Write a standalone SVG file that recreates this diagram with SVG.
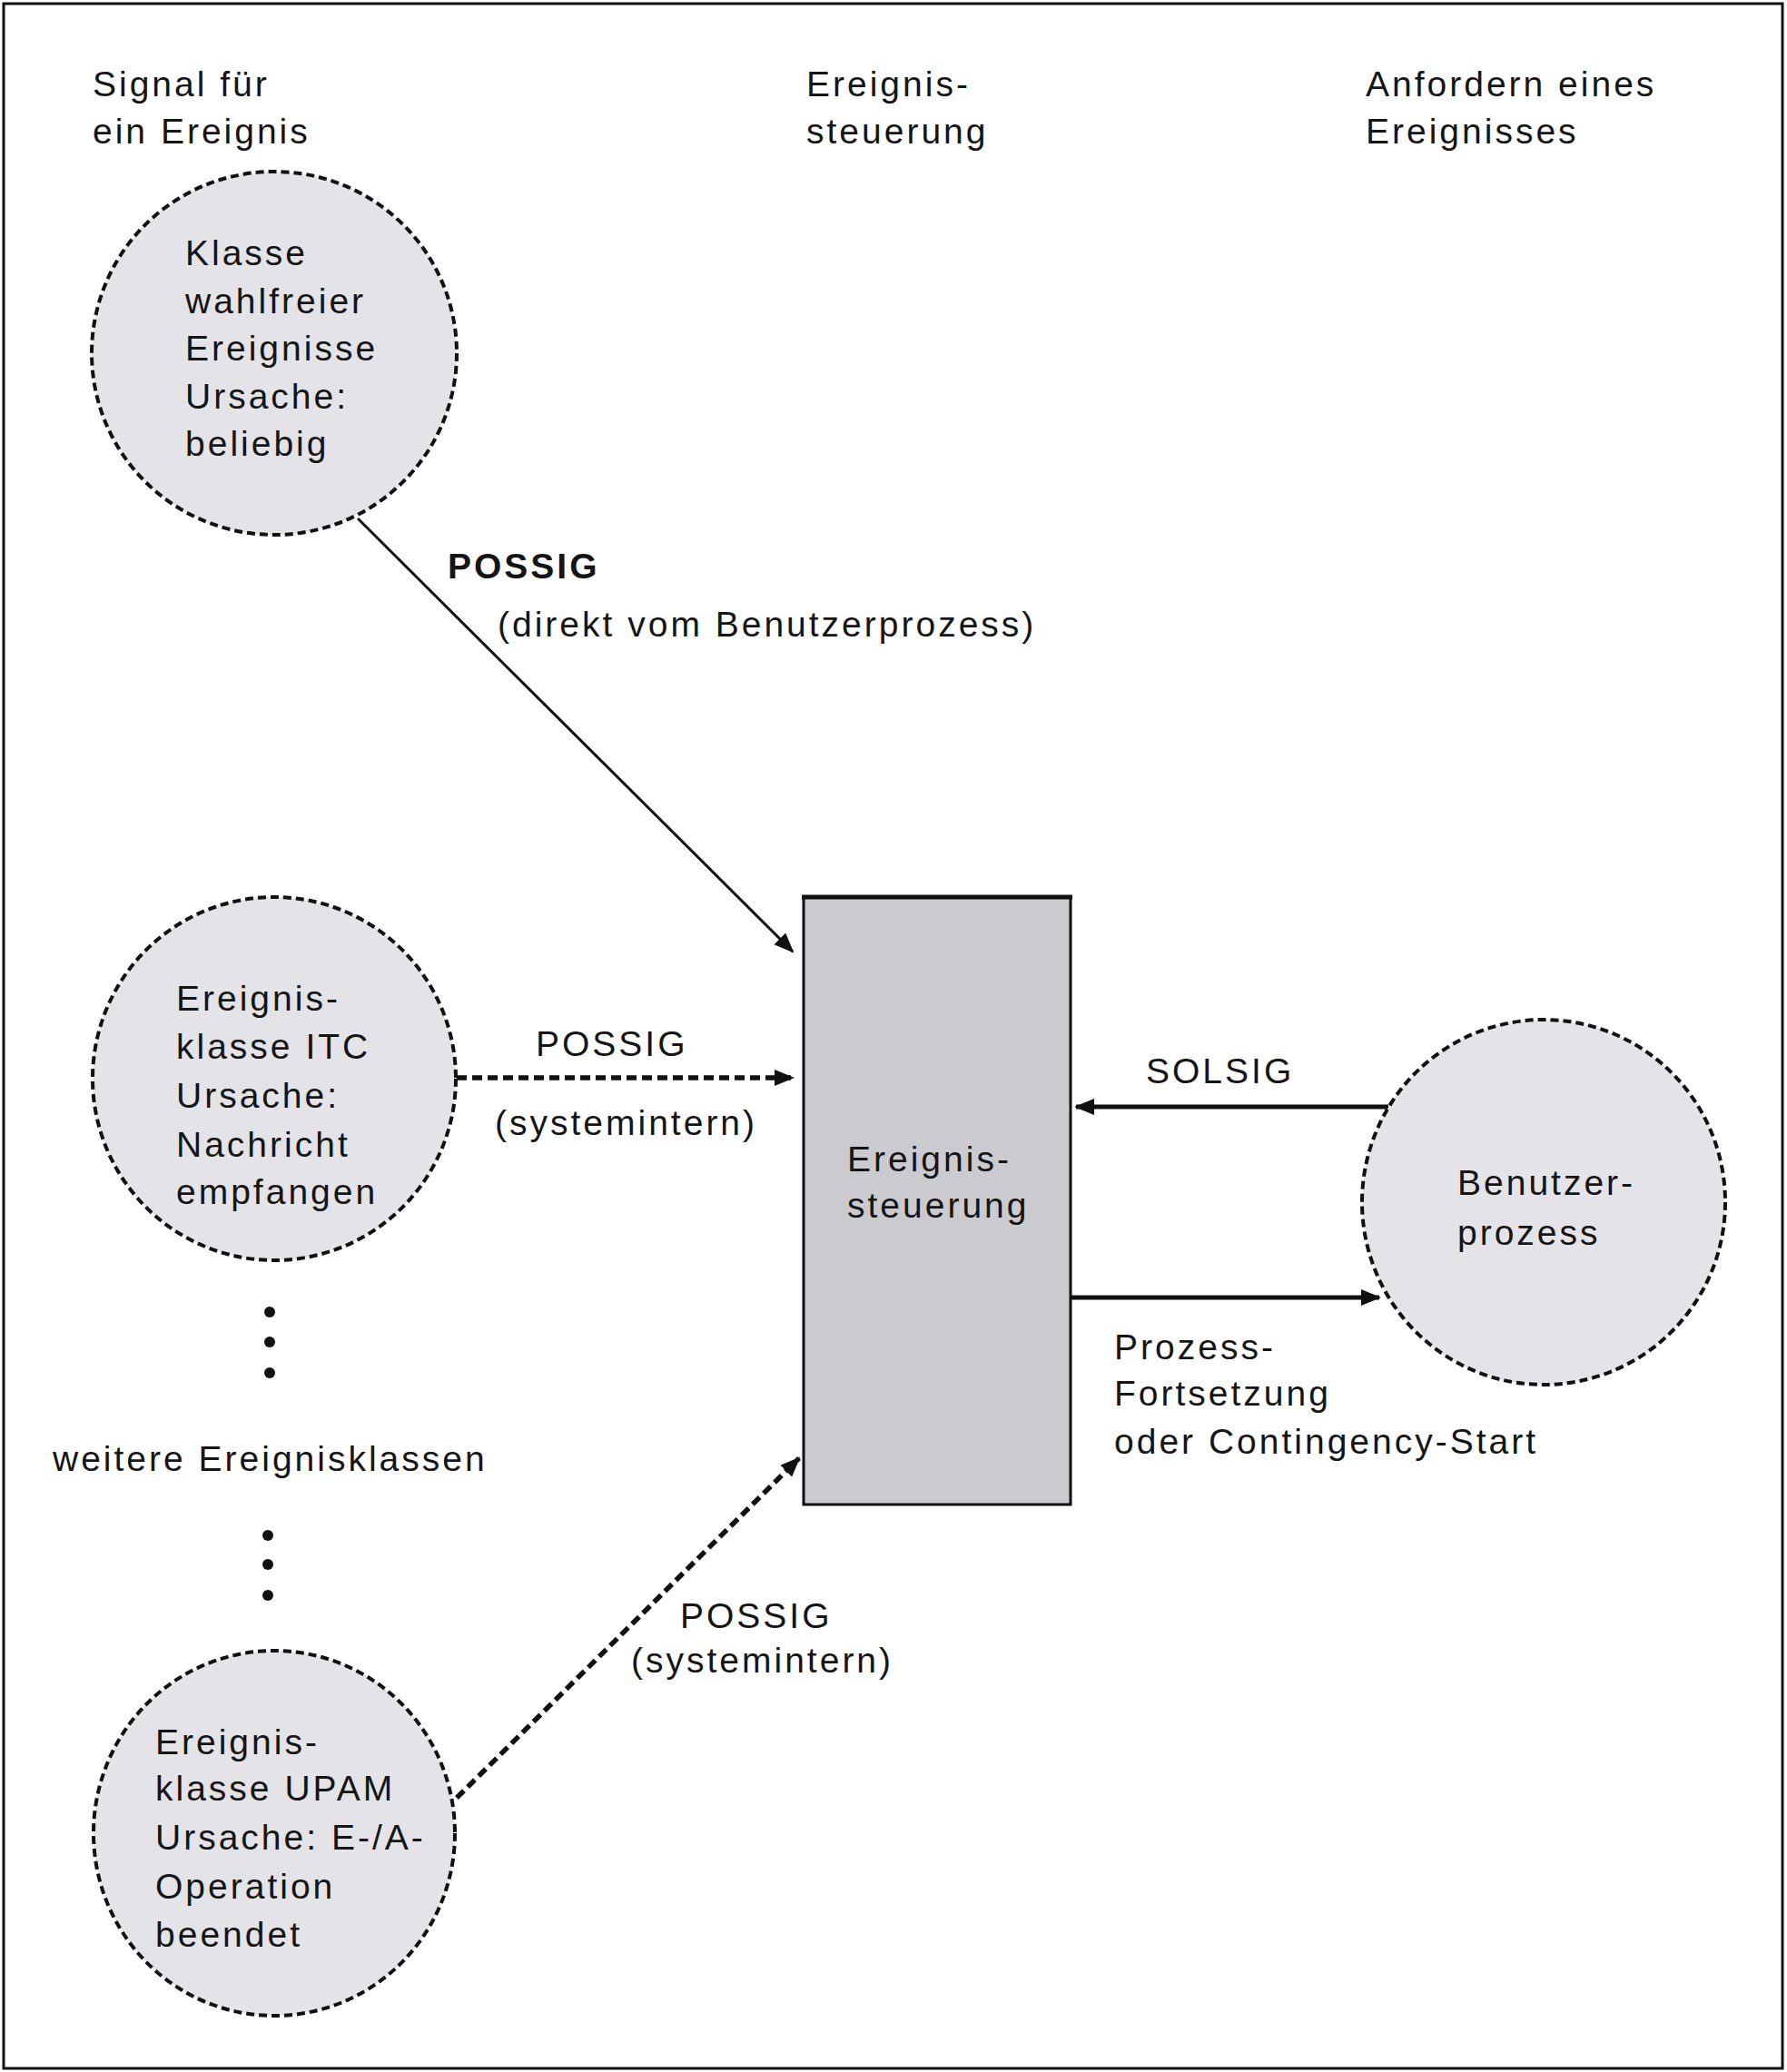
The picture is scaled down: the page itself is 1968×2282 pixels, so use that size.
<svg xmlns="http://www.w3.org/2000/svg" width="1968" height="2282" viewBox="0 0 1968 2282">
<defs>
<marker id="ah" markerWidth="24" markerHeight="20" refX="20" refY="9" orient="auto" markerUnits="userSpaceOnUse">
<path d="M0,0 L22,9 L0,18 z" fill="#111"/>
</marker>
<style>
text{font-family:"Liberation Sans",Arial,sans-serif;font-size:39px;fill:#151515;letter-spacing:3px}
.b{font-weight:bold}
.ev{fill:#e4e3e7;stroke:#111;stroke-width:4;stroke-dasharray:9 5}
.solid{stroke:#111;fill:none}
.dash{stroke:#111;fill:none;stroke-width:5.5;stroke-dasharray:11 6}
</style>
</defs>
<rect x="0" y="0" width="1968" height="2282" fill="#fff"/>
<rect x="4" y="4" width="1959" height="2274" fill="none" stroke="#111" stroke-width="3"/>

<g id="headers">
<text x="102" y="106">Signal für</text>
<text x="102" y="158">ein Ereignis</text>
<text x="888" y="106">Ereignis-</text>
<text x="888" y="158">steuerung</text>
<text x="1504" y="106">Anfordern eines</text>
<text x="1504" y="158">Ereignisses</text>
</g>

<g id="connectors">
<line class="solid" stroke-width="3" x1="394" y1="571" x2="873" y2="1048" marker-end="url(#ah)"/>
<line class="dash" x1="503" y1="1187" x2="873" y2="1187" marker-end="url(#ah)"/>
<line class="dash" x1="503" y1="1980" x2="880" y2="1606" marker-end="url(#ah)"/>
<line class="solid" stroke-width="5" x1="1529" y1="1219" x2="1185" y2="1219" marker-end="url(#ah)"/>
<line class="solid" stroke-width="5" x1="1179" y1="1429" x2="1519" y2="1429" marker-end="url(#ah)"/>
<text class="b" x="493" y="637">POSSIG</text>
<text x="548" y="701">(direkt vom Benutzerprozess)</text>
<text x="590" y="1163">POSSIG</text>
<text x="545" y="1250">(systemintern)</text>
<text x="749" y="1793">POSSIG</text>
<text x="695" y="1842">(systemintern)</text>
<text x="1262" y="1193">SOLSIG</text>
<text x="1227" y="1497">Prozess-</text>
<text x="1227" y="1548">Fortsetzung</text>
<text x="1227" y="1601">oder Contingency-Start</text>
</g>

<g id="node-wahlfrei">
<ellipse class="ev" cx="302" cy="389" rx="201" ry="200"/>
<text x="204" y="292">Klasse</text>
<text x="204" y="345">wahlfreier</text>
<text x="204" y="397">Ereignisse</text>
<text x="204" y="450">Ursache:</text>
<text x="204" y="502">beliebig</text>
</g>

<g id="node-itc">
<ellipse class="ev" cx="302" cy="1188" rx="200" ry="200"/>
<text x="194" y="1113">Ereignis-</text>
<text x="194" y="1166">klasse ITC</text>
<text x="194" y="1220">Ursache:</text>
<text x="194" y="1274">Nachricht</text>
<text x="194" y="1326">empfangen</text>
</g>

<g id="node-weitere">
<circle cx="297" cy="1445" r="6" fill="#111"/>
<circle cx="297" cy="1478" r="6" fill="#111"/>
<circle cx="297" cy="1512" r="6" fill="#111"/>
<text x="58" y="1620">weitere Ereignisklassen</text>
<circle cx="295" cy="1691" r="6" fill="#111"/>
<circle cx="295" cy="1723" r="6" fill="#111"/>
<circle cx="295" cy="1757" r="6" fill="#111"/>
</g>

<g id="node-upam">
<ellipse class="ev" cx="302" cy="2019" rx="199" ry="201"/>
<text x="171" y="1932">Ereignis-</text>
<text x="171" y="1983">klasse UPAM</text>
<text x="171" y="2037">Ursache: E-/A-</text>
<text x="171" y="2091">Operation</text>
<text x="171" y="2144">beendet</text>
</g>

<g id="node-steuerung">
<rect x="885" y="988" width="294" height="669" fill="#cbcacf" stroke="#111" stroke-width="3"/>
<line x1="883" y1="988" x2="1181" y2="988" stroke="#111" stroke-width="5"/>
<text x="933" y="1290">Ereignis-</text>
<text x="933" y="1341">steuerung</text>
</g>

<g id="node-benutzer">
<ellipse class="ev" cx="1700" cy="1324" rx="200" ry="201"/>
<text x="1605" y="1316">Benutzer-</text>
<text x="1605" y="1371">prozess</text>
</g>
</svg>
